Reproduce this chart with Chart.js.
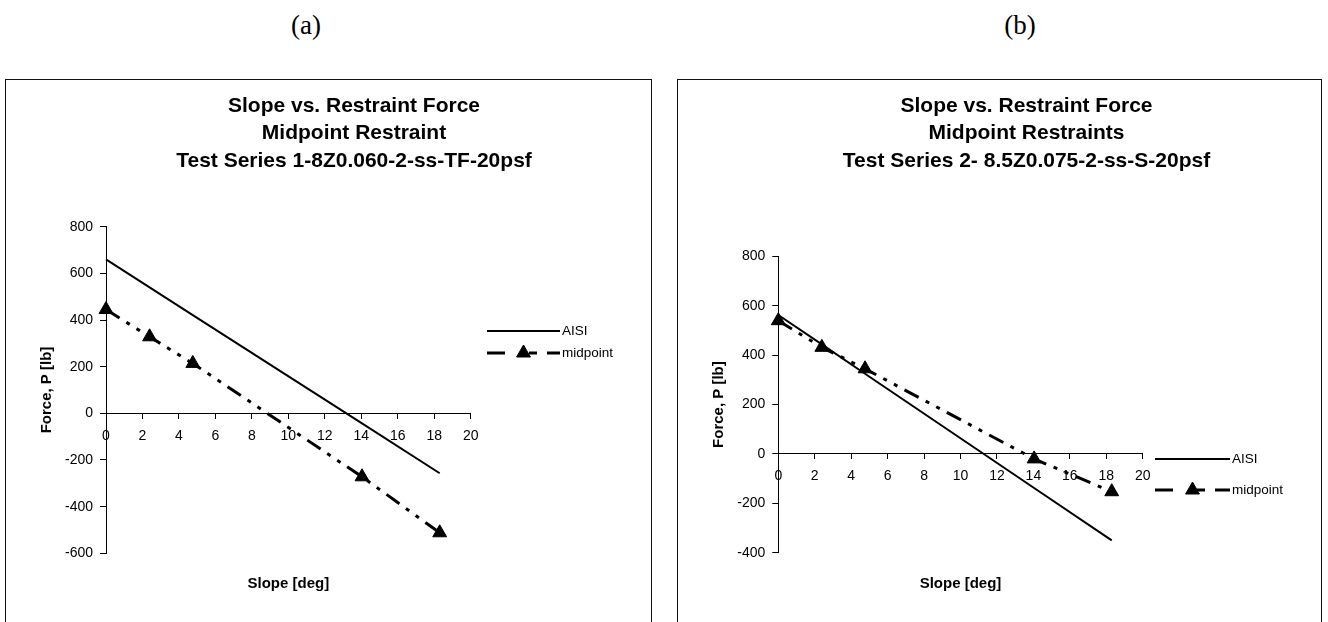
<!DOCTYPE html>
<html>
<head>
<meta charset="utf-8">
<script src="https://cdn.jsdelivr.net/npm/chart.js@4.4.1/dist/chart.umd.min.js"></script>
<style>
  html, body { margin: 0; padding: 0; background: #fff; }
  body { width: 1328px; height: 622px; position: relative; overflow: hidden; }
  .tag { position: absolute; top: 12px; font: 27px/27px "Liberation Serif", "Times New Roman", serif; color: #000; transform: translateX(-50%); }
  .frame { position: absolute; top: 79px; height: 560px; border: 1.5px solid #111; box-sizing: border-box; }
  canvas { position: absolute; }
</style>
</head>
<body>
<div class="tag" style="left:306px">(a)</div>
<div class="tag" style="left:1020px">(b)</div>
<div class="frame" style="left:5px;width:647px"></div>
<div class="frame" style="left:677px;width:645px"></div>
<canvas id="chartA" width="644" height="542" style="left:6px;top:80px;width:644px;height:542px"></canvas>
<canvas id="chartB" width="643" height="542" style="left:678px;top:80px;width:643px;height:542px"></canvas>

<script>
// Roof slope in degrees at which restraint force was evaluated
const slopeDeg = [0, 2.39, 4.76, 14.04, 18.3];

// Test series 1 (8Z0.060, through-fastened)
const aisiForceA = [660, 540, 421, -43, -257];
const midpointForceA = [445, 328, 214, -272, -512];

// Test series 2 (8.5Z0.075, standing seam)
const aisiForceB = [563, 444, 325, -138, -350];
const midpointForceB = [540, 432, 345, -20, -153];

const seriesNames = ['AISI', 'midpoint'];
const titleLinesA = ['Slope vs. Restraint Force', 'Midpoint Restraint', 'Test Series 1-8Z0.060-2-ss-TF-20psf'];
const titleLinesB = ['Slope vs. Restraint Force', 'Midpoint Restraints', 'Test Series 2- 8.5Z0.075-2-ss-S-20psf'];
const xAxisTitle = 'Slope [deg]';
const yAxisTitle = 'Force, P [lb]';

const xRange = [0, 20];
const xStep = 2;
const yRangeA = [-600, 800];
const yRangeB = [-400, 800];
const yStep = 200;

const FONT = '"Liberation Sans", Arial, Helvetica, sans-serif';

// Draws the three-line title, axis titles and the line-sample legend
const panelText = {
  id: 'panelText',
  afterDraw(chart, args, o) {
    const ctx = chart.ctx;
    const area = chart.chartArea;
    ctx.save();
    ctx.fillStyle = '#000';

    ctx.textAlign = 'center';
    ctx.textBaseline = 'alphabetic';
    ctx.font = 'bold 21px ' + FONT;
    o.titleLines.forEach((t, i) => ctx.fillText(t, o.titleX, o.titleY + i * o.titleGap));

    ctx.font = 'bold 15px ' + FONT;
    ctx.textBaseline = 'middle';
    ctx.fillText(o.xTitle, (area.left + area.right) / 2, o.xTitleY);

    ctx.save();
    ctx.translate(o.yTitleX, (area.top + area.bottom) / 2);
    ctx.rotate(-Math.PI / 2);
    ctx.fillText(o.yTitle, 0, 0);
    ctx.restore();

    // legend entries: line sample, marker in its middle, then the label
    ctx.font = '13.5px ' + FONT;
    ctx.textAlign = 'left';
    chart.data.datasets.forEach((ds, i) => {
      const y = o.legendY[i];
      const cx = (o.legendX0 + o.legendX1) / 2;
      ctx.save();
      ctx.strokeStyle = ds.borderColor;
      ctx.lineWidth = ds.borderWidth;
      ctx.setLineDash(ds.borderDash ? o.legendDash : []);
      ctx.beginPath();
      ctx.moveTo(o.legendX0, y);
      ctx.lineTo(o.legendX1, y);
      ctx.stroke();
      ctx.restore();
      if (ds.pointRadius > 0) {
        const r = ds.pointRadius;
        ctx.fillStyle = ds.pointBackgroundColor;
        ctx.strokeStyle = ds.pointBorderColor;
        ctx.lineWidth = 1;
        ctx.beginPath();
        ctx.moveTo(cx, y - r);
        ctx.lineTo(cx + r * Math.sin(2 * Math.PI / 3), y - r * Math.cos(2 * Math.PI / 3));
        ctx.lineTo(cx + r * Math.sin(4 * Math.PI / 3), y - r * Math.cos(4 * Math.PI / 3));
        ctx.closePath();
        ctx.fill();
        ctx.stroke();
      }
      ctx.fillStyle = '#000';
      ctx.fillText(ds.label, o.legendX1 + 2, y);
    });
    ctx.restore();
  }
};

function points(xs, ys) {
  return xs.map((x, i) => ({ x: x, y: ys[i] }));
}

function makeChart(id, aisi, midpoint, yRange, yAxisWidth, padding, text) {
  return new Chart(document.getElementById(id), {
    type: 'line',
    data: {
      datasets: [
        {
          label: seriesNames[0],
          data: points(slopeDeg, aisi),
          borderColor: '#000',
          borderWidth: 2,
          pointRadius: 0,
          clip: false
        },
        {
          label: seriesNames[1],
          data: points(slopeDeg, midpoint),
          borderColor: '#000',
          borderWidth: 3,
          borderDash: [16, 8, 4, 8, 4, 8],
          pointStyle: 'triangle',
          pointRadius: 8,
          pointBackgroundColor: '#000',
          pointBorderColor: '#000',
          pointBorderWidth: 1,
          clip: false
        }
      ]
    },
    options: {
      responsive: false,
      animation: false,
      devicePixelRatio: 1,
      events: [],
      layout: { padding: padding },
      plugins: {
        legend: { display: false },
        tooltip: { enabled: false },
        title: { display: false },
        panelText: text
      },
      scales: {
        x: {
          type: 'linear',
          min: xRange[0],
          max: xRange[1],
          position: { y: 0 },
          ticks: {
            stepSize: xStep, autoSkip: false, maxRotation: 0, color: '#000', padding: 9,
            font: { family: FONT, size: 14 }
          },
          grid: { display: true, drawOnChartArea: false, drawTicks: true, tickLength: 5, color: '#000', lineWidth: 1 },
          border: { display: true, color: '#000', width: 1 }
        },
        y: {
          type: 'linear',
          min: yRange[0],
          max: yRange[1],
          position: 'left',
          ticks: {
            stepSize: yStep, color: '#000', padding: 7,
            font: { family: FONT, size: 14 }
          },
          grid: { display: true, drawOnChartArea: false, drawTicks: true, tickLength: 6, color: '#000', lineWidth: 1 },
          border: { display: true, color: '#000', width: 1 },
          afterFit(scale) { scale.width = yAxisWidth; }
        }
      }
    },
    plugins: [panelText]
  });
}

makeChart('chartA', aisiForceA, midpointForceA, yRangeA, 100,
  { left: 0, top: 146.7, right: 179.3, bottom: 68.7 },
  {
    titleLines: titleLinesA, titleX: 348, titleY: 31.7, titleGap: 27.5,
    xTitle: xAxisTitle, xTitleY: 504,
    yTitle: yAxisTitle, yTitleX: 41,
    legendX0: 481, legendX1: 554, legendY: [251, 273], legendDash: [18, 24, 8, 10, 20, 0]
  });

makeChart('chartB', aisiForceB, midpointForceB, yRangeB, 100.3,
  { left: 0, top: 176.5, right: 178.3, bottom: 69.3 },
  {
    titleLines: titleLinesB, titleX: 348.5, titleY: 31.7, titleGap: 27.5,
    xTitle: xAxisTitle, xTitleY: 504,
    yTitle: yAxisTitle, yTitleX: 41,
    legendX0: 477, legendX1: 552, legendY: [379, 410], legendDash: [18, 24, 8, 10, 20, 0]
  });
</script>
</body>
</html>
